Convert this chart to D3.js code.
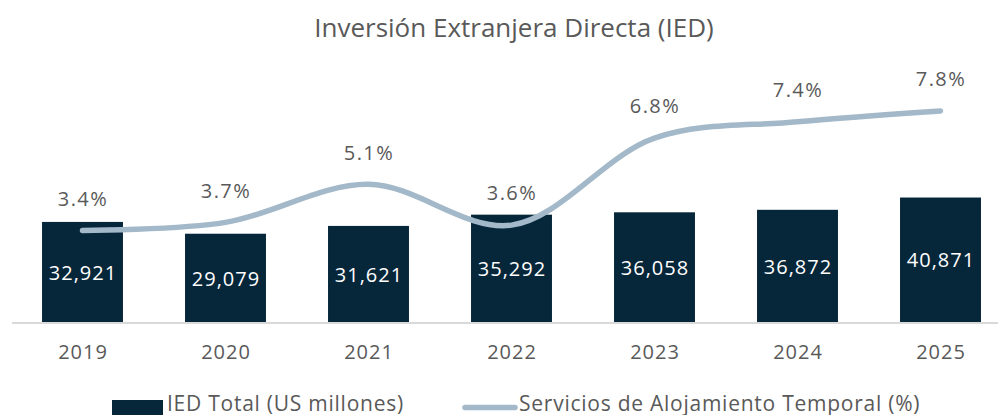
<!DOCTYPE html>
<html>
<head>
<meta charset="utf-8">
<script src="https://cdn.jsdelivr.net/npm/d3@7"></script>
<style>
  html, body { margin: 0; padding: 0; background: #fff; }
  svg { display: block; }
  text { font-family: "Open Sans", "DejaVu Sans", sans-serif; }
</style>
</head>
<body>
<svg id="chart" width="1000" height="415"></svg>
<script>
// Data
const years = ["2019", "2020", "2021", "2022", "2023", "2024", "2025"];
const iedTotal = [32921, 29079, 31621, 35292, 36058, 36872, 40871];
const alojamientoPct = [3.4, 3.7, 5.1, 3.6, 6.8, 7.4, 7.8];
const titleText = "Inversión Extranjera Directa (IED)";
const legendLabels = ["IED Total (US millones)", "Servicios de Alojamiento Temporal (%)"];

const barColor = "#06263a";
const lineColor = "#a3b8c8";
const textColor = "#595959";

const svg = d3.select("#chart");
const baseY = 323, topY = 16;

const x = d3.scaleBand().domain(years).range([11, 1012]).paddingInner(0.434).paddingOuter(0.217);
const y = d3.scaleLinear().domain([0, 100000]).range([baseY, topY]);
const y2 = d3.scaleLinear().domain([0, 11.29]).range([baseY, topY]);
const cx = i => x(years[i]) + x.bandwidth() / 2;

// Title
svg.append("text")
  .attr("x", 514).attr("y", 37)
  .attr("text-anchor", "middle")
  .attr("font-size", 26)
  .attr("fill", textColor)
  .text(titleText);

// Bars
svg.append("g").selectAll("rect")
  .data(iedTotal)
  .join("rect")
  .attr("x", (d, i) => x(years[i]))
  .attr("y", d => y(d))
  .attr("width", x.bandwidth())
  .attr("height", d => baseY - y(d))
  .attr("fill", barColor);

// Bar value labels
svg.append("g").selectAll("text")
  .data(iedTotal)
  .join("text")
  .attr("x", (d, i) => cx(i) + 0.5)
  .attr("y", d => (y(d) + baseY) / 2)
  .attr("dy", "0.36em")
  .attr("text-anchor", "middle")
  .attr("font-size", 20)
  .attr("letter-spacing", 1)
  .attr("fill", "#ffffff")
  .text(d => d3.format(",")(d));

// Category axis
const xAxis = svg.append("g")
  .attr("transform", `translate(0,${baseY})`)
  .call(d3.axisBottom(x).tickSize(0));
xAxis.select(".domain").remove();
xAxis.append("line")
  .attr("x1", 12).attr("x2", 998)
  .attr("stroke", "#d9d9d9").attr("stroke-width", 2);
xAxis.selectAll(".tick text")
  .attr("y", 36).attr("dy", 0)
  .attr("dx", 0.5)
  .attr("font-size", 20)
  .attr("letter-spacing", 1)
  .attr("fill", textColor)
  .attr("font-family", "'Open Sans', sans-serif");

// Smoothed percentage line
const line = d3.line()
  .x((d, i) => cx(i))
  .y(d => y2(d))
  .curve(d3.curveCatmullRom.alpha(0.5));

svg.append("path")
  .datum(alojamientoPct)
  .attr("d", line)
  .attr("fill", "none")
  .attr("stroke", lineColor)
  .attr("stroke-width", 5.5)
  .attr("stroke-linecap", "round");

// Percentage labels above the line
svg.append("g").selectAll("text")
  .data(alojamientoPct)
  .join("text")
  .attr("x", (d, i) => cx(i) + 0.5)
  .attr("y", d => y2(d) - 32)
  .attr("dy", "0.36em")
  .attr("text-anchor", "middle")
  .attr("font-size", 20)
  .attr("letter-spacing", 1.4)
  .attr("fill", textColor)
  .text(d => d.toFixed(1) + "%");

// Legend
const legend = svg.append("g");
legend.append("rect")
  .attr("x", 112).attr("y", 400).attr("width", 51).attr("height", 15)
  .attr("fill", barColor);
legend.append("text")
  .attr("x", 167).attr("y", 411)
  .attr("font-size", 21).attr("letter-spacing", 0.75).attr("fill", textColor)
  .text(legendLabels[0]);
legend.append("line")
  .attr("x1", 465).attr("x2", 515).attr("y1", 407.5).attr("y2", 407.5)
  .attr("stroke", lineColor).attr("stroke-width", 5.5).attr("stroke-linecap", "round");
legend.append("text")
  .attr("x", 519).attr("y", 411)
  .attr("font-size", 21).attr("letter-spacing", 0.75).attr("fill", textColor)
  .text(legendLabels[1]);
</script>
</body>
</html>
